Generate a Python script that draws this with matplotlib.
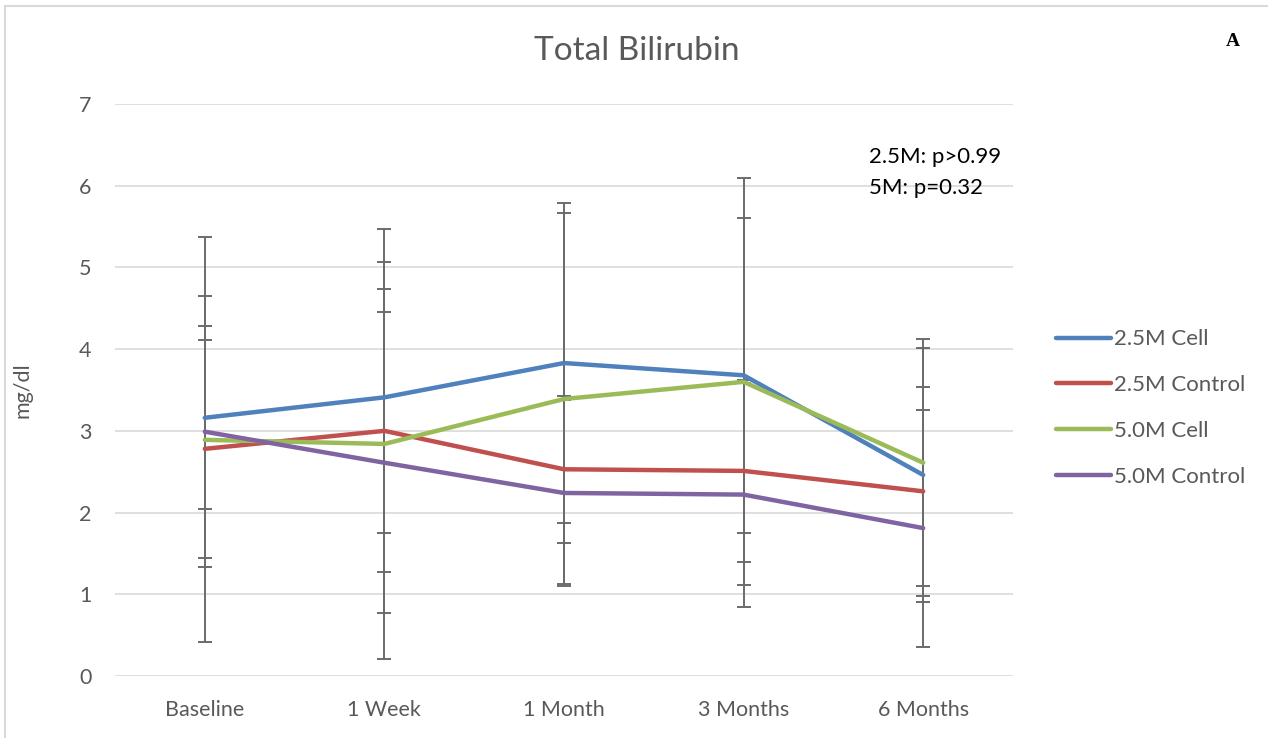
import matplotlib
matplotlib.use("Agg")
import matplotlib.pyplot as plt
from matplotlib.lines import Line2D
import numpy as np

# Time points and series (mean and error half-width, mg/dl)
categories = ["Baseline", "1 Week", "1 Month", "3 Months", "6 Months"]
series_names = ["2.5M Cell", "2.5M Control", "5.0M Cell", "5.0M Control"]

cell_25_mean = [3.16, 3.41, 3.83, 3.68, 2.46]
cell_25_err = [1.12, 1.66, 1.96, 1.93, 1.56]
ctrl_25_mean = [2.78, 3.00, 2.53, 2.51, 2.26]
ctrl_25_err = [1.33, 1.73, 0.90, 1.11, 1.28]
cell_50_mean = [2.89, 2.84, 3.39, 3.60, 2.61]
cell_50_err = [2.48, 2.63, 2.27, 2.49, 1.51]
ctrl_50_mean = [2.99, 2.61, 2.24, 2.22, 1.81]
ctrl_50_err = [1.66, 1.84, 1.14, 1.37, 1.45]

y_ticks = [0, 1, 2, 3, 4, 5, 6, 7]
p_text = ["2.5M: p>0.99", "5M: p=0.32"]

means = [cell_25_mean, ctrl_25_mean, cell_50_mean, ctrl_50_mean]
errs = [cell_25_err, ctrl_25_err, cell_50_err, ctrl_50_err]
colors = ["#4F81BD", "#C0504D", "#9BBB59", "#8064A2"]

font = ["Lato", "DejaVu Sans"]
text_gray = "#595959"

fig = plt.figure(figsize=(12.68, 7.38), dpi=100)
ax = fig.add_axes([115 / 1268, 1 - 676 / 738, (1013 - 115) / 1268, (676 - 104) / 738])

x = np.arange(len(categories))

# Error bars first, then the lines on top
for m, e in zip(means, errs):
    ax.errorbar(x, m, yerr=e, fmt="none", ecolor="#6b6b6b", elinewidth=1.4,
                capsize=5, capthick=1.4, zorder=2)
for m, c, name in zip(means, colors, series_names):
    ax.plot(x, m, color=c, lw=3.2, solid_capstyle="round", solid_joinstyle="round",
            zorder=3, label=name)

ax.set_xlim(-0.5, len(categories) - 0.5)
ax.set_ylim(0, 7)
ax.set_yticks(y_ticks)
ax.set_yticklabels([str(t) for t in y_ticks], fontsize=15.5, color=text_gray, family=font)
ax.set_xticks(x)
ax.set_xticklabels(categories, fontsize=15.5, color=text_gray, family=font)
ax.tick_params(axis="both", length=0)
ax.tick_params(axis="x", pad=17)
ax.tick_params(axis="y", pad=17)
ax.grid(axis="y", color="#d9d9d9", lw=1.2, zorder=0)
for s in ax.spines.values():
    s.set_visible(False)
ax.set_axisbelow(True)

ax.set_ylabel("mg/dl", fontsize=15.5, color=text_gray, family=font)
ax.yaxis.set_label_coords(-83 / 898, 0.5)

fig.text(637 / 1268, 1 - 51 / 738, "Total Bilirubin", ha="center", va="center",
         fontsize=24, color=text_gray, family=font)

fig.text(869 / 1268, 1 - 157 / 738, p_text[0], ha="left", va="center",
         fontsize=16, color="black", family=font)
fig.text(869 / 1268, 1 - 188 / 738, p_text[1], ha="left", va="center",
         fontsize=16, color="black", family=font)

fig.text(1233 / 1268, 1 - 42 / 738, "A", ha="center", va="center",
         fontsize=14, fontweight="bold", color="black", family="Liberation Serif")

handles = [Line2D([0], [0], color=c, lw=3.2, solid_capstyle="round") for c in colors]
leg = fig.legend(handles, series_names, loc="upper left",
                 bbox_to_anchor=(1052 / 1268, 1 - 325 / 738), frameon=False,
                 handlelength=2.45, handletextpad=0.15, labelspacing=1.16,
                 borderaxespad=0, borderpad=0.2,
                 prop={"family": font, "size": 16})
for t in leg.get_texts():
    t.set_color(text_gray)

# Chart frame
fig.add_artist(Line2D([5 / 1268, 5 / 1268], [0, 1 - 6 / 738], color="#d9d9d9", lw=1.5,
                      transform=fig.transFigure))
fig.add_artist(Line2D([5 / 1268, 1], [1 - 6 / 738, 1 - 6 / 738], color="#d9d9d9", lw=1.5,
                      transform=fig.transFigure))

fig.savefig("out.png", dpi=100, facecolor="white")
